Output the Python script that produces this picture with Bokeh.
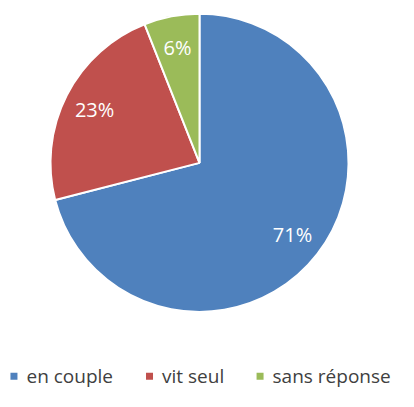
import math
from bokeh.plotting import figure
from bokeh.models import Range1d, ColumnDataSource
from bokeh.core.properties import value
from bokeh.embed import file_html
from bokeh.resources import INLINE

categories = ["en couple", "vit seul", "sans réponse"]
shares = [71, 23, 6]
labels = ["71%", "23%", "6%"]
colors = ["#4F81BD", "#C0504D", "#9BBB59"]

W, H = 398, 391
p = figure(width=W, height=H, output_backend="svg", toolbar_location=None,
           x_range=Range1d(0, 414), y_range=Range1d(0, 407),
           min_border=0, outline_line_color=None)
p.axis.visible = False
p.grid.visible = False

cx, cy, R = 207, 407 - 169, 155
total = sum(shares)
starts, ends, lx, ly = [], [], [], []
acc = 0.0
for s in shares:
    a0 = math.pi / 2 - 2 * math.pi * acc / total
    a1 = math.pi / 2 - 2 * math.pi * (acc + s) / total
    starts.append(a0)
    ends.append(a1)
    mid = (a0 + a1) / 2
    lx.append(cx + 0.79 * R * math.cos(mid))
    ly.append(cy + 0.79 * R * math.sin(mid))
    acc += s

src = ColumnDataSource(dict(start=starts, end=ends, color=colors, lx=lx, ly=ly, label=labels))
p.wedge(x=cx, y=cy, radius=R, start_angle="start", end_angle="end", direction="clock",
        fill_color="color", line_color="white", line_width=2, source=src)
p.text(x="lx", y="ly", text="label", source=src, text_color="white",
       text_font=value("Open Sans"), text_font_size="20px",
       text_align="center", text_baseline="middle")

# legend
leg_sq_x = [14, 155, 270]
leg_y = 16
p.scatter(x=leg_sq_x, y=[leg_y] * 3, marker="square", size=7, fill_color=colors, line_color=None)
p.text(x=[x + 13 for x in leg_sq_x], y=[leg_y] * 3, text=categories, text_color="#404040",
       text_font=value("Open Sans"), text_font_size="19px",
       text_align="left", text_baseline="middle")

open("out.html", "w").write(file_html(p, INLINE))
